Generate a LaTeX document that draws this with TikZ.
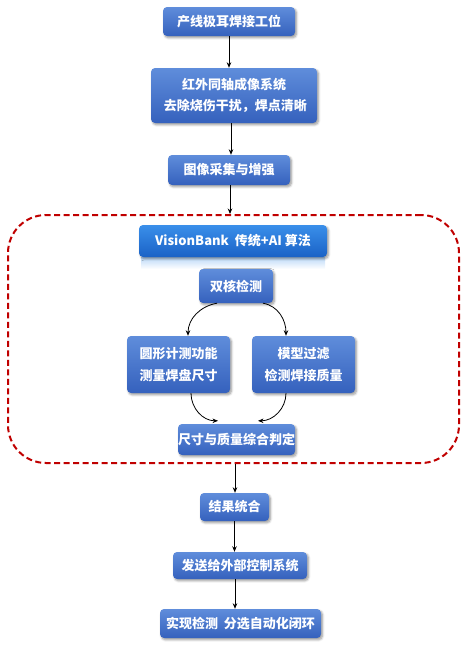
\documentclass[tikz,border=0pt]{standalone}
\usepackage{fontspec}
\setmainfont{Noto Sans CJK SC}
\usetikzlibrary{arrows.meta,shadows.blur}
\definecolor{boxtop}{HTML}{5F8DDB}
\definecolor{boxbot}{HTML}{3561BD}
\definecolor{vbtop}{HTML}{3A8FEA}
\definecolor{vbbot}{HTML}{1A62C6}
\definecolor{dred}{HTML}{C00000}
\tikzset{
  box/.style={rounded corners=4pt, top color=boxtop, bottom color=boxbot, draw=none,
    text=white, font=\bfseries\fontsize{13}{21.5}\selectfont, align=center, inner sep=0pt,
    blur shadow={shadow xshift=1.5pt, shadow yshift=-1.8pt, shadow blur steps=6, shadow opacity=40}},
  vbox/.style={box, top color=vbtop, bottom color=vbbot},
  arr/.style={-{Stealth[length=5.5pt,width=4.5pt]}, line width=0.8pt, black},
  group/.style={draw=dred, line width=2pt, dash pattern=on 6pt off 3.5pt, rounded corners=38pt, fill=none}
}
\begin{document}
\begin{tikzpicture}[x=1pt,y=-1pt]
\useasboundingbox (0,0) rectangle (468,648);
\node[group, minimum width=451pt, minimum height=248pt] (grp) at (233.5,339) {};
\node[box, minimum width=132pt, minimum height=29pt] (n1) at (229,21.5) {产线极耳焊接工位};
\node[box, minimum width=166pt, minimum height=55pt] (n2) at (234,95.5) {红外同轴成像系统\\ \ 去除烧伤干扰，焊点清晰};
\node[box, minimum width=122pt, minimum height=30pt] (n3) at (229,170) {图像采集与增强};
% reflection
\shade[top color=vbtop!35, bottom color=white] (141,257) rectangle (325,269);
\node[vbox, minimum width=188pt, minimum height=32pt] (n4) at (233,241) {VisionBank\ \ 传统+AI 算法};
\node[box, minimum width=74pt, minimum height=34pt] (n5) at (236,286) {双核检测};
\node[box, minimum width=103pt, minimum height=57pt] (n6) at (178.5,364.5) {圆形计测功能\\测量焊盘尺寸};
\node[box, minimum width=103pt, minimum height=57pt] (n7) at (303.5,364.5) {模型过滤\\检测焊接质量};
\node[box, minimum width=117pt, minimum height=31pt] (n8) at (236.5,439.5) {尺寸与质量综合判定};
\node[box, minimum width=69pt, minimum height=28pt] (n9) at (234.5,507) {结果统合};
\node[box, minimum width=134pt, minimum height=27pt] (n10) at (240,565.5) {发送给外部控制系统};
\node[box, minimum width=161pt, minimum height=29pt] (n11) at (240.5,623.5) {实现检测\ \ 分选自动化闭环};
% connectors
\draw[arr] (n1.south) -- (n1.south |- n2.north);
\draw[arr] ([xshift=-3pt]n2.south) -- ([xshift=-3pt]n2.south |- n3.north);
\draw[arr] ([xshift=1pt]n3.south) -- ([xshift=1pt]n3.south |- grp.north);
\draw[arr] ([xshift=1.5pt]grp.south) -- ([xshift=1.5pt]grp.south |- n9.north);
\draw[arr] (n9.south) -- (n9.south |- n10.north);
\draw[arr] ([xshift=-5pt]n10.south) -- ([xshift=-5pt]n10.south |- n11.north);
\draw[arr] ([xshift=-19pt]n5.south) to[out=190,in=90] ([xshift=9.5pt]n6.north);
\draw[arr] ([xshift=27pt]n5.south) to[out=-10,in=90] ([xshift=-17.5pt]n7.north);
\draw[arr] ([xshift=12.5pt]n6.south) to[out=-90,in=180] ([xshift=-18.5pt,yshift=3pt]n8.north);
\draw[arr] ([xshift=-17.5pt]n7.south) to[out=-90,in=0] ([xshift=21.5pt,yshift=3pt]n8.north);
\end{tikzpicture}
\end{document}
